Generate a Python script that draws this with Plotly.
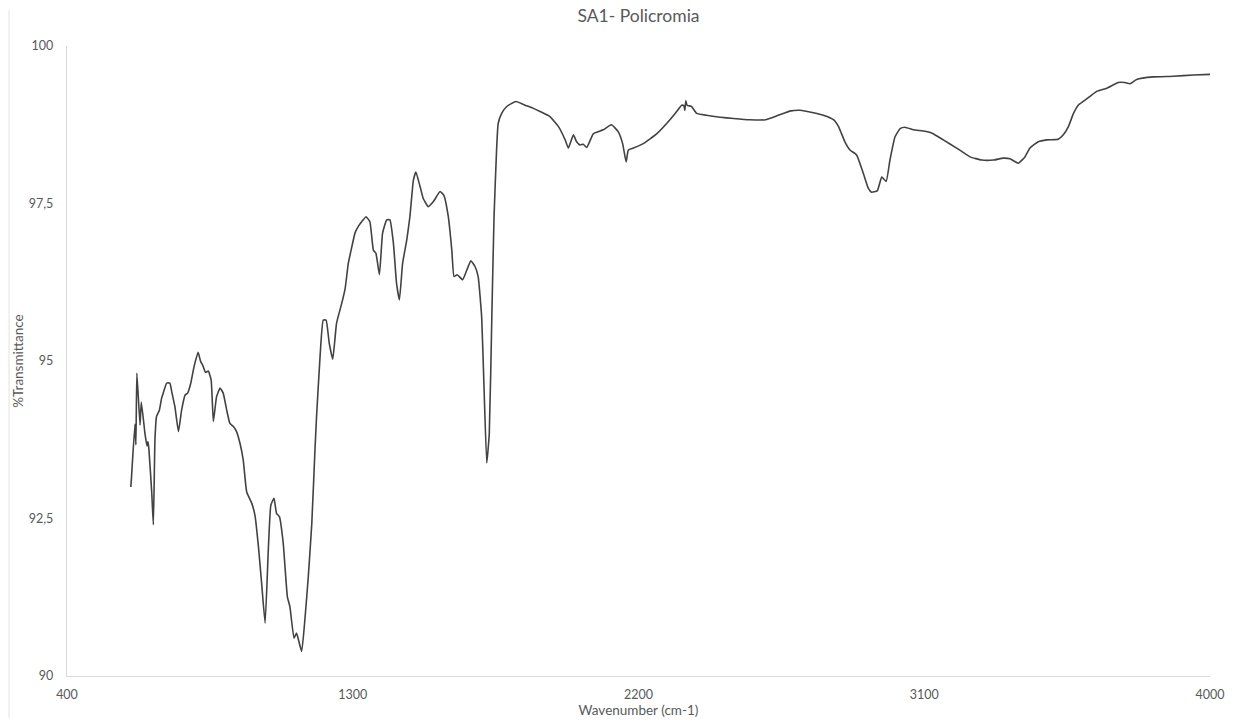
import plotly.graph_objects as go

wavenumber = [601, 603, 614, 617, 620, 630, 634, 646, 652, 655, 658, 667, 672, 677, 682, 691, 698, 703, 714, 724,
              730, 740, 751, 761, 772, 780, 790, 798, 804, 813, 821, 827, 836, 845, 854, 861, 871, 882, 892, 903,
              913, 924, 934, 945, 955, 966, 982, 992, 1003, 1013, 1024, 1034, 1042, 1052, 1060, 1069, 1081, 1094,
              1102, 1115, 1123, 1139, 1150, 1160, 1171, 1181, 1186, 1197, 1207, 1216, 1226, 1237, 1249, 1265, 1276,
              1286, 1297, 1307, 1318, 1328, 1342, 1354, 1365, 1373, 1384, 1394, 1407, 1417, 1428, 1438, 1447, 1457,
              1470, 1480, 1491, 1499, 1512, 1522, 1538, 1554, 1575, 1587, 1601, 1612, 1619, 1629, 1646, 1659, 1672,
              1685, 1695, 1706, 1713, 1722, 1730, 1738, 1745, 1753, 1758, 1769, 1785, 1814, 1848, 1869, 1890, 1921,
              1948, 1969, 1979, 1995, 2005, 2016, 2026, 2037, 2058, 2089, 2115, 2136, 2150, 2161, 2168, 2184, 2215,
              2258, 2299, 2320, 2336, 2343, 2346, 2349, 2353, 2367, 2383, 2414, 2457, 2499, 2551, 2600, 2640, 2680,
              2709, 2751, 2782, 2814, 2830, 2850, 2866, 2887, 2908, 2924, 2934, 2952, 2966, 2980, 2992, 3008, 3024,
              3039, 3066, 3097, 3123, 3160, 3202, 3244, 3281, 3318, 3349, 3370, 3396, 3417, 3433, 3459, 3486, 3522,
              3538, 3554, 3570, 3585, 3601, 3622, 3643, 3675, 3711, 3732, 3748, 3769, 3821, 3885, 3948, 4000]

transmittance = [93.0, 93.14, 94.0, 93.67, 94.81, 93.98, 94.35, 93.83, 93.65, 93.72, 93.6, 92.9, 92.4, 93.75, 94.12,
                 94.22, 94.41, 94.49, 94.65, 94.65, 94.51, 94.27, 93.88, 94.22, 94.46, 94.49, 94.65, 94.86, 94.99,
                 95.14, 94.99, 94.94, 94.82, 94.84, 94.7, 94.04, 94.43, 94.57, 94.49, 94.22, 94.01, 93.96, 93.88,
                 93.69, 93.43, 92.92, 92.74, 92.55, 92.05, 91.47, 90.84, 92.0, 92.71, 92.82, 92.58, 92.53, 92.11,
                 91.26, 91.1, 90.6, 90.68, 90.39, 90.94, 91.58, 92.42, 93.59, 94.12, 95.07, 95.65, 95.65, 95.28,
                 95.03, 95.6, 95.91, 96.15, 96.55, 96.81, 97.03, 97.14, 97.21, 97.29, 97.21, 96.76, 96.71, 96.37,
                 97.03, 97.24, 97.24, 96.87, 96.23, 95.97, 96.55, 96.92, 97.29, 97.87, 98.0, 97.77, 97.58, 97.45,
                 97.53, 97.69, 97.63, 97.29, 96.76, 96.34, 96.37, 96.29, 96.44, 96.59, 96.5, 96.34, 95.7, 94.65,
                 93.38, 93.85, 95.7, 97.29, 98.35, 98.77, 98.93, 99.04, 99.12, 99.05, 99.01, 98.96, 98.88, 98.72,
                 98.51, 98.38, 98.59, 98.48, 98.43, 98.44, 98.39, 98.61, 98.67, 98.75, 98.64, 98.45, 98.16, 98.35,
                 98.38, 98.45, 98.61, 98.83, 98.96, 99.06, 99.05, 98.98, 99.13, 99.06, 99.04, 98.93, 98.9, 98.87,
                 98.85, 98.83, 98.83, 98.9, 98.97, 98.98, 98.94, 98.9, 98.83, 98.72, 98.48, 98.35, 98.27, 97.98,
                 97.74, 97.68, 97.7, 97.92, 97.85, 98.19, 98.56, 98.69, 98.71, 98.67, 98.65, 98.62, 98.51, 98.38,
                 98.24, 98.19, 98.19, 98.22, 98.21, 98.14, 98.24, 98.38, 98.48, 98.51, 98.52, 98.59, 98.72, 98.93,
                 99.06, 99.12, 99.2, 99.28, 99.33, 99.42, 99.42, 99.4, 99.47, 99.51, 99.52, 99.54, 99.55]

x_ticks = [400, 1300, 2200, 3100, 4000]
y_ticks = [90, 92.5, 95, 97.5, 100]
y_tick_labels = ["90", "92,5", "95", "97,5", "100"]

FONT = "Lato, 'Open Sans', sans-serif"
GREY = "#595959"

fig = go.Figure()
fig.add_trace(go.Scatter(
    x=wavenumber, y=transmittance, mode="lines",
    line=dict(color="#424242", width=1.6, shape="spline", smoothing=0.4),
    showlegend=False, hoverinfo="x+y",
))

fig.update_layout(
    width=1237, height=722,
    margin=dict(l=67, r=27, t=46, b=46, autoexpand=False),
    paper_bgcolor="white", plot_bgcolor="white",
    font=dict(family=FONT, color=GREY, size=12),
    title=dict(text="SA1- Policromia", xref="paper", x=0.5, xanchor="center", y=0.978, yanchor="middle",
               font=dict(size=17.5, color=GREY, family=FONT)),
    xaxis=dict(
        range=[400, 4000], tickvals=x_ticks, ticktext=[str(v) for v in x_ticks],
        showgrid=False, zeroline=False, showline=True, linecolor="#d9d9d9", linewidth=1.3,
        ticks="", ticklabelstandoff=7, tickfont=dict(size=12.5, color=GREY), automargin=False,
        title=dict(text="Wavenumber (cm-1)", font=dict(size=13.5, color=GREY), standoff=4),
    ),
    yaxis=dict(
        range=[90, 100], tickvals=y_ticks, ticktext=y_tick_labels,
        showgrid=False, zeroline=False, showline=True, linecolor="#d9d9d9", linewidth=1.3,
        ticks="", ticklabelstandoff=10, tickfont=dict(size=12.5, color=GREY), automargin=False,
        title=dict(text="%Transmittance", font=dict(size=13.5, color=GREY), standoff=2),
    ),
    shapes=[dict(type="line", xref="paper", yref="paper", x0=-0.0507, x1=-0.0507, y0=1.057, y1=-0.067,
                 line=dict(color="#e3e3e3", width=1), layer="below")],
)

fig.write_html("out.html")
